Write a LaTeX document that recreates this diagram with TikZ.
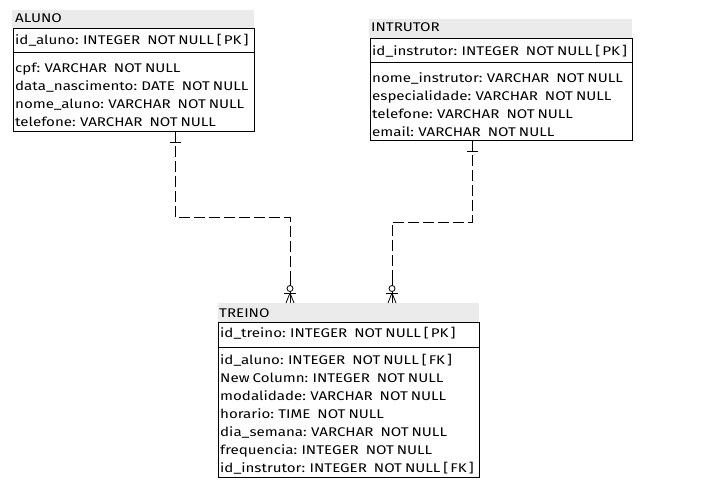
\documentclass[tikz,border=0pt]{standalone}
\usepackage{fontspec}
\setmainfont[FakeStretch=1.2,WordSpace=0.75]{Fira Sans}
\newcommand{\gapNN}{\hspace{7pt}}
\begin{document}
\begin{tikzpicture}[x=1pt,y=-1pt,
  hdr/.style={fill=black!8,draw=none},
  tbox/.style={draw=black,line width=0.8pt,fill=none},
  txt/.style={anchor=base west,inner sep=0pt,font=\fontsize{12.6}{14}\selectfont},
  rel/.style={draw=black,line width=0.8pt,dash pattern=on 11pt off 4pt},
  relmark/.style={draw=black,line width=0.8pt}
]
\useasboundingbox (0,0) rectangle (725,487);
% ALUNO
\fill[hdr] (12,10) rectangle (254,28);
\draw[tbox] (13,28) rectangle (254,131);
\draw[tbox] (13,52) -- (254,52);
\node[txt] (alunoT) at (15,23) {ALUNO};
\node[txt] (aluno0) at (15,45) {id\_aluno: INTEGER\gapNN NOT NULL [\,PK\,]};
\node[txt] (aluno1) at (15,72) {cpf: VARCHAR\gapNN NOT NULL};
\node[txt] (aluno2) at (15,90) {data\_nascimento: DATE\gapNN NOT NULL};
\node[txt] (aluno3) at (15,108) {nome\_aluno: VARCHAR\gapNN NOT NULL};
\node[txt] (aluno4) at (15,126) {telefone: VARCHAR\gapNN NOT NULL};
% INTRUTOR
\fill[hdr] (369,19) rectangle (632,38);
\draw[tbox] (370,38) rectangle (632,140);
\draw[tbox] (370,62) -- (632,62);
\node[txt] (instT) at (371,32) {INTRUTOR};
\node[txt] (inst0) at (372,56) {id\_instrutor: INTEGER\gapNN NOT NULL [\,PK\,]};
\node[txt] (inst1) at (372,82) {nome\_instrutor: VARCHAR\gapNN NOT NULL};
\node[txt] (inst2) at (372,100) {especialidade: VARCHAR\gapNN NOT NULL};
\node[txt] (inst3) at (372,118) {telefone: VARCHAR\gapNN NOT NULL};
\node[txt] (inst4) at (372,136) {email: VARCHAR\gapNN NOT NULL};
% TREINO
\fill[hdr] (218,303) rectangle (479,322);
\draw[tbox] (218,322) rectangle (479,477);
\draw[tbox] (218,347) -- (479,347);
\node[txt] (treT) at (219,317) {TREINO};
\node[txt] (tre0) at (220,337) {id\_treino: INTEGER\gapNN NOT NULL [\,PK\,]};
\node[txt] (tre1) at (220,364) {id\_aluno: INTEGER\gapNN NOT NULL [\,FK\,]};
\node[txt] (tre2) at (220,382) {New Column: INTEGER\gapNN NOT NULL};
\node[txt] (tre3) at (220,400) {modalidade: VARCHAR\gapNN NOT NULL};
\node[txt] (tre4) at (220,418) {horario: TIME\gapNN NOT NULL};
\node[txt] (tre5) at (220,436) {dia\_semana: VARCHAR\gapNN NOT NULL};
\node[txt] (tre6) at (220,454) {frequencia: INTEGER\gapNN NOT NULL};
\node[txt] (tre7) at (220,472) {id\_instrutor: INTEGER\gapNN NOT NULL [\,FK\,]};
% connectors
\coordinate (a1) at (175,131);
\coordinate (a2) at (175,217);
\coordinate (a3) at (290,217);
\coordinate (a4) at (290,303);
\coordinate (i1) at (472,140);
\coordinate (i2) at (472,222);
\coordinate (i3) at (392,222);
\coordinate (i4) at (392,303);
\draw[rel] (a1) -- (a2) -- (a3) -- (a4);
\draw[rel] (i1) -- (i2) -- (i3) -- (i4);
% one marks
\draw[relmark] (170,142) -- (181,142);
\draw[relmark] (467,151) -- (478,151);
% crow's feet with circle
\foreach \cx in {290,392}{
  \draw[relmark] (\cx,280) -- (\cx,303);
  \draw[relmark,fill=white] (\cx,288.5) circle (3);
  \draw[relmark] (\cx-6,293) -- (\cx+6,293);
  \draw[relmark] (\cx,293) -- (\cx-4,303);
  \draw[relmark] (\cx,293) -- (\cx+4,303);
}
\end{tikzpicture}
\end{document}
